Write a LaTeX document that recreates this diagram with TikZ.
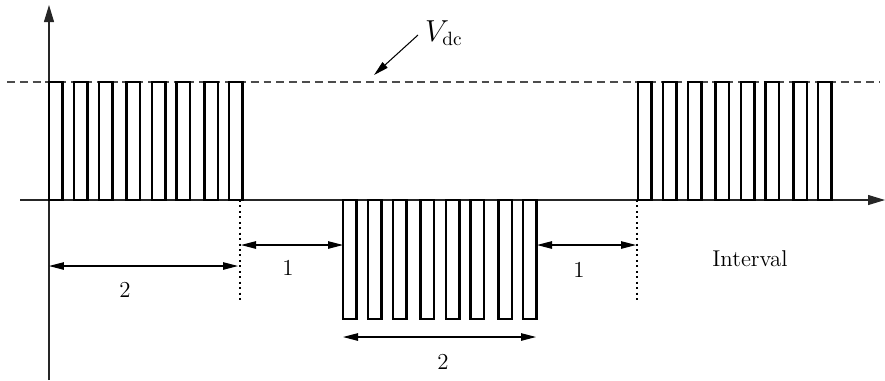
\documentclass[tikz,border=0pt]{standalone}
\usetikzlibrary{arrows.meta}
\tikzset{
  pulse/.style={draw=black, line width=1.4pt},
  axis/.style={-{Triangle[length=3.4mm,width=2mm]}, line width=0.6pt, draw=black!85},
  span/.style={{Triangle[length=3mm,width=1.5mm]}-{Triangle[length=3mm,width=1.5mm]},
    line width=0.6pt},
  guide/.style={dotted, line width=1.1pt},
  level/.style={dash pattern=on 4.5pt off 2.8pt, line width=0.7pt, draw=black!70},
  lbl/.style={font=\fontsize{13}{15}\selectfont, inner sep=1pt},
}

\begin{document}
\begin{tikzpicture}[x=0.02cm, y=-0.02cm]
  \useasboundingbox (0,0) rectangle (885,380);
  % axes
  \coordinate (ybot) at (49,380);
  \coordinate (ytop) at (49,5);
  \coordinate (xl) at (20,200);
  \coordinate (xr) at (885,200);
  \draw[axis] (ybot) -- (ytop);
  \draw[axis] (xl) -- (xr);
  % dc level
  \coordinate (dcl) at (7,82);
  \coordinate (dcr) at (880,82);
  \draw[level] (dcl) -- (dcr);
  % pulse trains
  \foreach \g/\ptop/\pbot in {49/82/200, 343/200/319, 638/82/200}
    \foreach \d in {0,25,50,77.5,103,127.5,155.5,180}
      \draw[pulse] (\g+\d,\ptop) rectangle (\g+\d+13.5,\pbot);
  % interval guides
  \coordinate (ga) at (240,200);
  \coordinate (gb) at (240,300);
  \coordinate (gc) at (637,200);
  \coordinate (gd) at (637,300);
  \draw[guide] (ga) -- (gb);
  \draw[guide] (gc) -- (gd);
  % spans
  \coordinate (s1a) at (49,266);  \coordinate (s1b) at (238,266);
  \coordinate (s2a) at (241,245); \coordinate (s2b) at (343,245);
  \coordinate (s3a) at (343,337); \coordinate (s3b) at (536,337);
  \coordinate (s4a) at (537,245); \coordinate (s4b) at (636,245);
  \draw[span] (s1a) -- (s1b);
  \draw[span] (s2a) -- (s2b);
  \draw[span] (s3a) -- (s3b);
  \draw[span] (s4a) -- (s4b);
  \node[lbl] (n1) at (125,290) {2};
  \node[lbl] (n2) at (288,268) {1};
  \node[lbl] (n3) at (443,362) {2};
  \node[lbl] (n4) at (579,270) {1};
  \node[lbl] (itv) at (750,259) {Interval};
  % dc label
  \node[lbl, font=\fontsize{16}{18}\selectfont, anchor=west] (vdc) at (423,33) {$V_{\mathrm{dc}}$};
  \coordinate (vtail) at (418,35);
  \coordinate (vtip) at (374,75);
  \draw[-{Triangle[length=3mm,width=1.5mm]}, line width=0.6pt] (vtail) -- (vtip);
\end{tikzpicture}
\end{document}
